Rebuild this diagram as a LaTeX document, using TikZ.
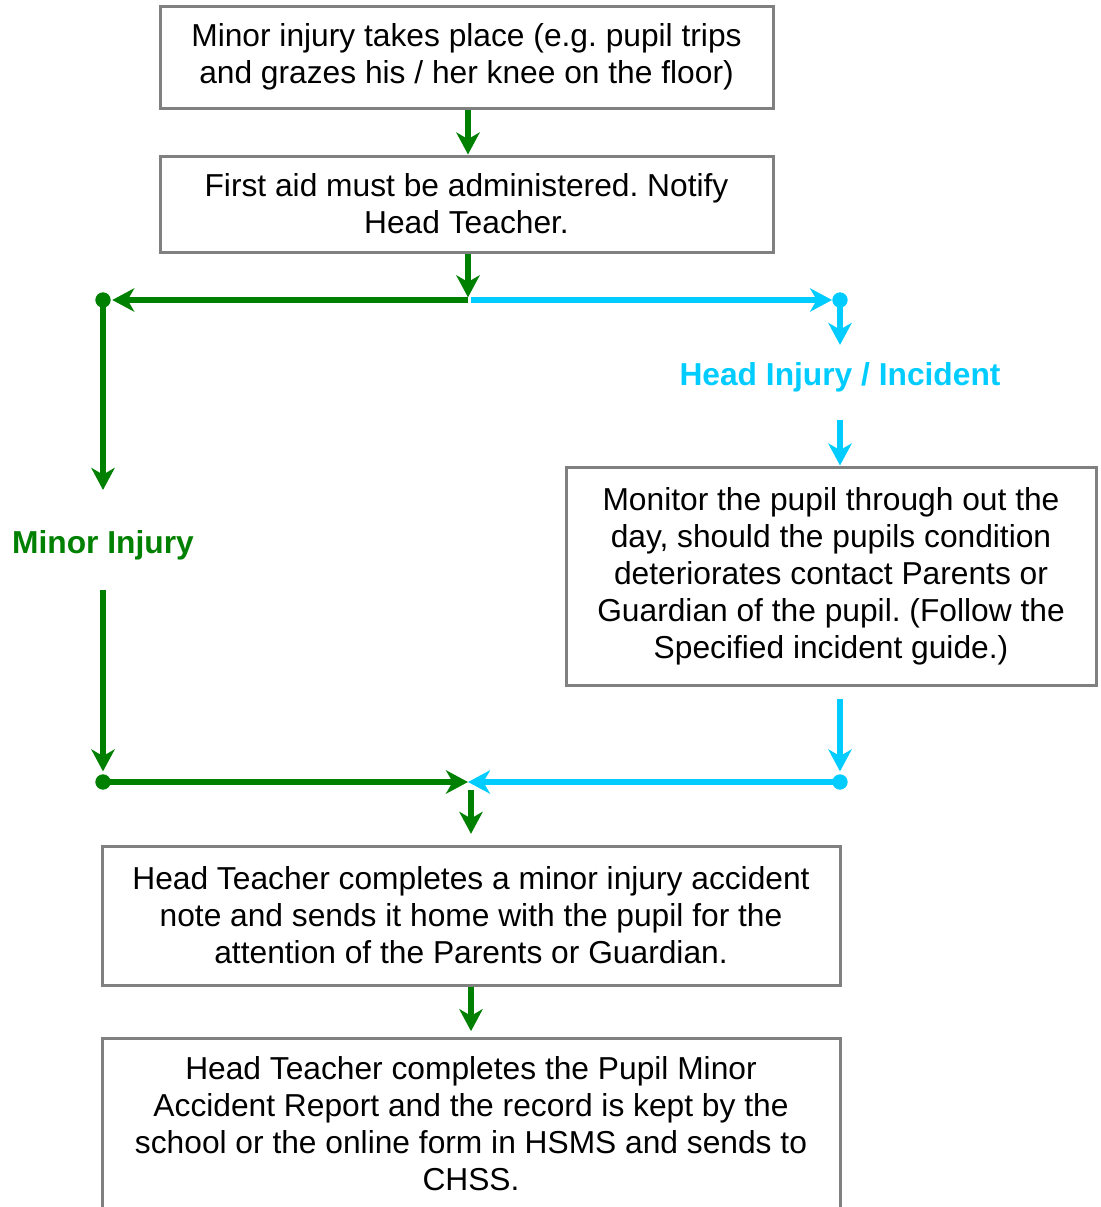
\documentclass[tikz,border=0pt]{standalone}
\usepackage{fontspec}
\setmainfont{Liberation Sans}
\usetikzlibrary{arrows.meta}
\definecolor{flowgreen}{HTML}{008000}
\definecolor{flowcyan}{HTML}{00CCFF}
\definecolor{boxgray}{HTML}{808080}
\frenchspacing
\begin{document}
\begin{tikzpicture}[x=0.75pt,y=-0.75pt,
    box/.style={draw=boxgray, line width=2.25pt, align=center, inner sep=0pt,
      font=\fontsize{23.8}{27.75}\selectfont},
    flow/.style={line width=4.5pt, -{Stealth[length=16.5pt,width=17.5pt,inset=5pt]}},
    branch/.style={font=\bfseries\fontsize{23.8}{27}\selectfont, inner sep=0pt},
    dot/.style={circle, fill, inner sep=0pt, minimum size=11.5pt}]

    % 描画範囲
    \clip (0,0) rectangle (1100,1207);

    % 箱の描画
    \node[box, minimum width=459.75pt, minimum height=76.5pt] (start) at (466.5,57)
      {Minor injury takes place (e.g. pupil trips\\and grazes his / her knee on the floor)};
    \node[box, minimum width=459.75pt, minimum height=72pt] (aid) at (466.5,204)
      {First aid must be administered. Notify\\Head Teacher.};
    \node[box, minimum width=397.5pt, minimum height=163.5pt] (monitor) at (831,576)
      {Monitor the pupil through out the\\day, should the pupils condition\\deteriorates contact Parents or\\Guardian of the pupil. (Follow the\\Specified incident guide.)};
    \node[box, minimum width=553.5pt, minimum height=104.25pt] (note) at (471,915.5)
      {Head Teacher completes a minor injury accident\\note and sends it home with the pupil for the\\attention of the Parents or Guardian.};
    \node[box, minimum width=553.5pt, minimum height=129pt] (report) at (471,1124)
      {Head Teacher completes the Pupil Minor\\Accident Report and the record is kept by the\\school or the online form in HSMS and sends to\\CHSS.};

    % 分岐のラベル
    \node[branch, text=flowgreen] (minor) at (103,545) {Minor Injury};
    \node[branch, text=flowcyan] (head) at (840,377) {Head Injury / Incident};

    % 分岐点
    \coordinate (split) at (468,300);
    \coordinate (merge) at (468,782);
    \node[dot, flowgreen] (gtop) at (103,300) {};
    \node[dot, flowgreen] (gbot) at (103,782) {};
    \node[dot, flowcyan] (ctop) at (840,300) {};
    \node[dot, flowcyan] (cbot) at (840,782) {};

    % 緑の矢印
    \draw[flow, flowgreen] (start.south -| split) -- (aid.north -| split);
    \draw[flow, flowgreen] (aid.south -| split) -- ([yshift=2pt]split);
    \draw[flow, flowgreen, shorten >=1pt] (split) -- (gtop);
    \draw[flow, flowgreen] (gtop.center) -- ([yshift=30pt]minor.north);
    \draw[flow, flowgreen, shorten >=2pt] ([yshift=-22.5pt]minor.south) -- (gbot);
    \draw[flow, flowgreen] (gbot.center) -- (merge);
    \draw[flow, flowgreen] ([yshift=-6pt]merge -| note.north) -- ([yshift=8pt]note.north);
    \draw[flow, flowgreen] (note.south) -- ([yshift=4pt]report.north);

    % 水色の矢印
    \draw[flow, flowcyan] ([xshift=2pt]split) -- (ctop);
    \draw[flow, flowcyan] (ctop.center) -- ([yshift=12.75pt]head.north);
    \draw[flow, flowcyan] ([yshift=-21pt]head.south) -- (monitor.north -| head);
    \draw[flow, flowcyan, shorten >=2pt] ([yshift=-9pt]monitor.south -| head) -- (cbot);
    \draw[flow, flowcyan] (cbot.center) -- (merge);

\end{tikzpicture}
\end{document}
